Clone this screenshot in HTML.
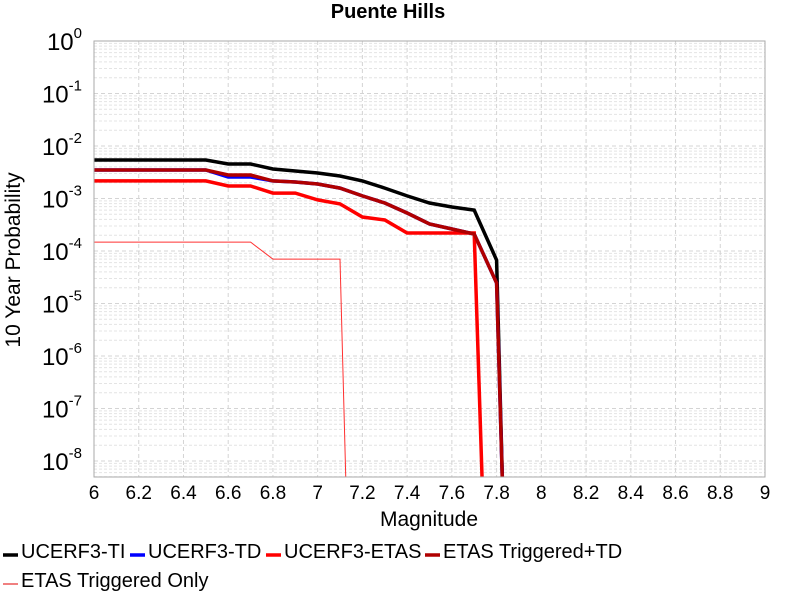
<!DOCTYPE html>
<html><head><meta charset="utf-8"><style>
html,body{margin:0;padding:0;background:#fff;}
svg{display:block;font-family:"Liberation Sans",sans-serif;}
</style></head><body>
<svg id="chart" width="800" height="600" xmlns="http://www.w3.org/2000/svg">
<g id="grid"></g>
<g id="series"></g>
<g id="axes"></g>
<text x="388" y="18" text-anchor="middle" font-size="20" font-weight="bold">Puente Hills</text>
<text x="429" y="526" text-anchor="middle" font-size="21">Magnitude</text>
<text transform="translate(20,260) rotate(-90)" text-anchor="middle" font-size="21">10 Year Probability</text>
<g id="legend"></g>
</svg>
<script>
const xTicks=[6,6.2,6.4,6.6,6.8,7,7.2,7.4,7.6,7.8,8,8.2,8.4,8.6,8.8,9];
const yDecades=[0,-1,-2,-3,-4,-5,-6,-7,-8];
const xTI=[6,6.1,6.2,6.3,6.4,6.5,6.6,6.7,6.8,6.9,7.0,7.1,7.2,7.3,7.4,7.5,7.6,7.7,7.8,7.83];
const yTI=[5.41e-3,5.41e-3,5.41e-3,5.41e-3,5.41e-3,5.41e-3,4.54e-3,4.54e-3,3.65e-3,3.34e-3,3.06e-3,2.68e-3,2.16e-3,1.58e-3,1.12e-3,8.2e-4,6.9e-4,6.0e-4,6.7e-5,1e-9];
const xTD=[6,6.1,6.2,6.3,6.4,6.5,6.6,6.7,6.8,6.9,7.0,7.1,7.2,7.3,7.4,7.5,7.6,7.7,7.8,7.83];
const yTD=[3.49e-3,3.49e-3,3.49e-3,3.49e-3,3.49e-3,3.49e-3,2.57e-3,2.57e-3,2.16e-3,2.06e-3,1.89e-3,1.58e-3,1.12e-3,8.2e-4,5.3e-4,3.27e-4,2.62e-4,2.11e-4,2.46e-5,1e-9];
const xETAS=[6,6.1,6.2,6.3,6.4,6.5,6.6,6.7,6.8,6.9,7.0,7.1,7.2,7.3,7.4,7.5,7.6,7.7,7.74];
const yETAS=[2.16e-3,2.16e-3,2.16e-3,2.16e-3,2.16e-3,2.16e-3,1.73e-3,1.73e-3,1.27e-3,1.27e-3,9.4e-4,7.9e-4,4.45e-4,3.9e-4,2.2e-4,2.2e-4,2.2e-4,2.2e-4,1e-9];
const xTrigTD=[6,6.1,6.2,6.3,6.4,6.5,6.6,6.7,6.8,6.9,7.0,7.1,7.2,7.3,7.4,7.5,7.6,7.7,7.8,7.83];
const yTrigTD=[3.49e-3,3.49e-3,3.49e-3,3.49e-3,3.49e-3,3.49e-3,2.8e-3,2.8e-3,2.16e-3,2.06e-3,1.89e-3,1.58e-3,1.12e-3,8.2e-4,5.3e-4,3.27e-4,2.62e-4,2.11e-4,2.46e-5,1e-9];
const xTrig=[6,6.1,6.2,6.3,6.4,6.5,6.6,6.7,6.8,6.9,7.0,7.1,7.13];
const yTrig=[1.48e-4,1.48e-4,1.48e-4,1.48e-4,1.48e-4,1.48e-4,1.48e-4,1.48e-4,7.0e-5,7.0e-5,7.0e-5,7.0e-5,1e-9];
const legendNames=["UCERF3-TI","UCERF3-TD","UCERF3-ETAS","ETAS Triggered+TD","ETAS Triggered Only"];

const L=94,R=765,T=41,B=477,DEC=52.5;
const NS="http://www.w3.org/2000/svg";
function sx(v){return L+(v-6)/3*(R-L);}
function sy(v){return T-Math.log10(v)*DEC;}
function mk(tag,attrs,parent){const e=document.createElementNS(NS,tag);for(const k in attrs)e.setAttribute(k,attrs[k]);parent.appendChild(e);return e;}
const grid=document.getElementById('grid'),axes=document.getElementById('axes'),ser=document.getElementById('series'),leg=document.getElementById('legend');
for(let d=0;d>=-9;d--){for(let m=2;m<=9;m++){const y=sy(m*Math.pow(10,d-1));if(y<T||y>B)continue;
const l=mk('line',{x1:L,x2:R,y1:y,y2:y,stroke:'#e4e4e4','stroke-dasharray':'3,2','stroke-width':1},grid);

}}
yDecades.forEach(d=>{const y=sy(Math.pow(10,d));
const l=mk('line',{x1:L,x2:R,y1:y,y2:y,stroke:'#d4d4d4','stroke-dasharray':'4,3'},grid);


const t=mk('text',{x:L-12,y:y+9,'text-anchor':'end','font-size':24},axes);


t.textContent='10';
const s=mk('tspan',{dy:-12,'font-size':15},t);s.textContent=String(d);});
xTicks.forEach(v=>{const x=sx(v);
const l=mk('line',{x1:x,x2:x,y1:T,y2:B,stroke:'#d4d4d4','stroke-dasharray':'4,3'},grid);


const t=mk('text',{x:x,y:B+22,'text-anchor':'middle','font-size':19},axes);


t.textContent=String(v);});
const fr=mk('rect',{x:L,y:T,width:R-L,height:B-T,fill:'none',stroke:'#aaa'},axes);


mk('clipPath',{id:'clip'},ser);
mk('rect',{x:L,y:T,width:R-L,height:B-T},document.getElementById('clip'));
const series=[[xTI,yTI,'#000',3.5],[xTD,yTD,'#0000ff',3.5],[xETAS,yETAS,'#ff0000',3.5],[xTrigTD,yTrigTD,'#b00000',3.5],[xTrig,yTrig,'#ff3030',1]];
const names=['line-ucerf3-ti','line-ucerf3-td','line-ucerf3-etas','line-etas-triggered-td','line-etas-triggered-only'];
series.forEach((s,i)=>{const pts=s[0].map((x,j)=>sx(x).toFixed(1)+','+sy(s[1][j]).toFixed(1)).join(' ');
const p=mk('polyline',{points:pts,fill:'none',stroke:s[2],'stroke-width':s[3],'clip-path':'url(#clip)','stroke-linejoin':'miter'},ser);

});
const lpos=[[3,555],[130,555],[266,555],[425,555],[3,584]];
const lcol=['#000','#0000ff','#ff0000','#b00000','#f08080'];
legendNames.forEach((n,i)=>{const [x,y]=lpos[i];
const g=mk('g',{},leg);


mk('line',{x1:x,x2:x+15,y1:y,y2:y,stroke:lcol[i],'stroke-width':i==4?2:3.5},g);
const t=mk('text',{x:x+18,y:y+3,'font-size':20},g);t.textContent=n;});
</script>
</body></html>
